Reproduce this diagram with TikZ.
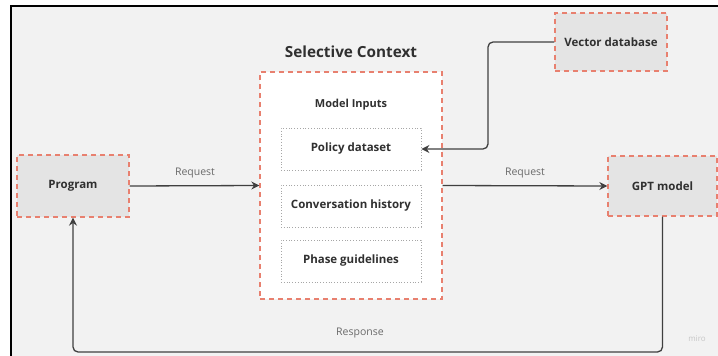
\documentclass[tikz,border=0pt]{standalone}
\usepackage{fontspec}
\setmainfont{Open Sans}
\usetikzlibrary{arrows.meta}
\definecolor{miroback}{HTML}{F2F2F2}
\definecolor{mirobox}{HTML}{E4E4E4}
\definecolor{mirored}{HTML}{E8806F}
\definecolor{miroline}{HTML}{404040}
\definecolor{mirotext}{HTML}{303030}
\definecolor{mirolabel}{HTML}{6A6A6A}
\tikzset{block/.style={draw=mirored, dashed, dash pattern=on 5pt off 4pt, line width=1.3pt, fill=mirobox, font=\fontsize{11.5}{13}\bfseries, text=mirotext}}
\tikzset{input/.style={draw=gray!70, dotted, line width=0.8pt, fill=white, minimum width=140pt, minimum height=42pt, font=\fontsize{11.5}{13}\bfseries, text=mirotext}}
\tikzset{arrow/.style={draw=miroline, line width=1.3pt, -{Stealth[length=8pt,width=8pt]}}}
\tikzset{lbl/.style={font=\fontsize{10.5}{12}\selectfont, text=mirolabel}}

\begin{document}
\begin{tikzpicture}[x=1pt, y=-1pt]
        \useasboundingbox (0,0) rectangle (718,356);
        \fill[miroback] (11,6) rectangle (718,356);
        \draw[line width=2pt] (11,356) -- (11,6) -- (718,6);

        \node[font=\fontsize{15.3}{18}\bfseries, text=mirotext] (title) at (351,52) {Selective Context};
        \node[block, fill=white, minimum width=182pt, minimum height=227pt] (ctx) at (351,185.5) {};
        \node[font=\fontsize{11}{13}\bfseries, text=mirotext] (inputs) at (351,105) {Model Inputs};
        \node[input] (policy) at (351,149) {Policy dataset};
        \node[input] (history) at (351,206) {Conversation history};
        \node[input] (phase) at (351,261) {Phase guidelines};

        \node[block, minimum width=112pt, minimum height=62pt] (prog) at (73,186) {Program};
        \node[block, minimum width=112pt, minimum height=58pt] (vec) at (611,42) {Vector database};
        \node[block, minimum width=109pt, minimum height=60pt] (gpt) at (662.5,186) {GPT model};

        \coordinate (vbend) at (488,42);
        \coordinate (rbend) at (73,352);

        \draw[arrow] (prog.east) -- (ctx.west);
        \draw[arrow] (ctx.east) -- (gpt.west);
        \draw[arrow, rounded corners=5pt] (vec.west) -- (vbend) |- (policy.east);
        \draw[arrow, rounded corners=5pt] (gpt.south) |- (rbend) -- (prog.south);

        \node[lbl] (req1) at (195,173) {Request};
        \node[lbl] (req2) at (525,173) {Request};
        \node[lbl] (resp) at (360,333) {Response};
        \node[font=\fontsize{8}{9}\selectfont, text=gray!45] (miro) at (697,339) {miro};
    \end{tikzpicture}
\end{document}
